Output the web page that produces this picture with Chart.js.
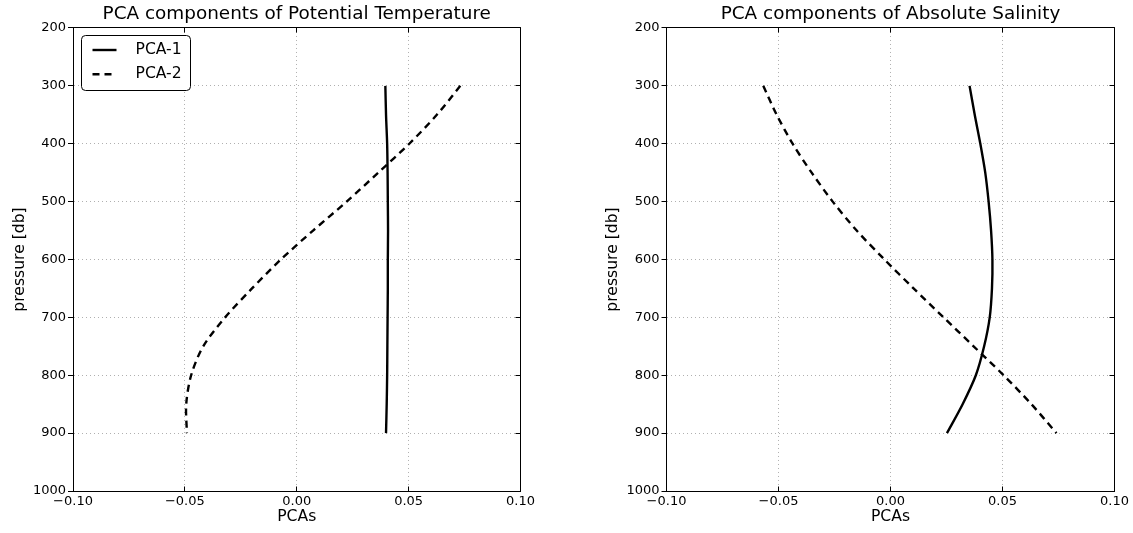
<!DOCTYPE html>
<html><head><meta charset="utf-8">
<script src="https://cdn.jsdelivr.net/npm/chart.js@4/dist/chart.umd.min.js"></script>
<style>
html,body{margin:0;padding:0;background:#fff;overflow:hidden;width:1133px;height:533px}
#wrapL{position:absolute;left:0;top:0;width:566px;height:533px}
#wrapR{position:absolute;left:593px;top:0;width:540px;height:533px}
canvas{display:block}
</style></head><body>
<div id="wrapL"><canvas id="cL" width="566" height="533"></canvas></div>
<div id="wrapR"><canvas id="cR" width="540" height="533"></canvas></div>
<script>
// ---- data ----
const pressure = [300, 350, 400, 450, 500, 550, 600, 650, 700, 750, 800, 850, 900];
const tempPCA1 = [0.0396, 0.0399, 0.0404, 0.0406, 0.0407, 0.0408, 0.0407, 0.0407, 0.0406, 0.0405, 0.0404, 0.0402, 0.0399];
const tempPCA2 = [0.0731, 0.0626, 0.0503, 0.0364, 0.0223, 0.0073, -0.0071, -0.0200, -0.0320, -0.0418, -0.0472, -0.0494, -0.0491];
const salPCA1  = [0.0353, 0.0376, 0.0401, 0.0423, 0.0438, 0.0449, 0.0455, 0.0453, 0.0443, 0.0418, 0.0381, 0.0322, 0.0252];
const salPCA2  = [-0.0568, -0.0508, -0.0437, -0.0352, -0.0258, -0.0151, -0.0027, 0.0103, 0.0237, 0.0371, 0.0505, 0.0629, 0.0741];
const seriesLabels = ['PCA-1', 'PCA-2'];
const chartTitles = ['PCA components of Potential Temperature', 'PCA components of Absolute Salinity'];
const xAxisTitle = 'PCAs';
const yAxisTitle = 'pressure [db]';
const xTickValues = [-0.10, -0.05, 0.00, 0.05, 0.10];
const xTickLabels = ['\u22120.10', '\u22120.05', '0.00', '0.05', '0.10'];
const yTickValues = [200, 300, 400, 500, 600, 700, 800, 900, 1000];
const yTickLabels = ['200', '300', '400', '500', '600', '700', '800', '900', '1000'];

// ---- styling ----
const FONT = 'DejaVu Sans';
Chart.defaults.font.family = FONT;
Chart.defaults.color = '#000';

function align(px) { return Math.round(px - 0.5) + 0.5; }

const framePlugin = {
  id: 'frame',
  afterDraw(chart) {
    const {ctx, chartArea: a, scales} = chart;
    ctx.save();
    ctx.strokeStyle = '#000';
    ctx.lineWidth = 1;
    ctx.setLineDash([]);
    const L = align(a.left), R = align(a.right), T = align(a.top), B = align(a.bottom);
    ctx.beginPath();
    ctx.rect(L, T, R - L, B - T);
    ctx.stroke();
    // inward ticks
    ctx.beginPath();
    scales.x.ticks.forEach(t => {
      const x = align(scales.x.getPixelForValue(t.value));
      ctx.moveTo(x, B); ctx.lineTo(x, B - 5);
      ctx.moveTo(x, T); ctx.lineTo(x, T + 5);
    });
    scales.y.ticks.forEach(t => {
      const y = align(scales.y.getPixelForValue(t.value));
      ctx.moveTo(R, y); ctx.lineTo(R - 5, y);
    });
    ctx.stroke();
    ctx.restore();
  }
};

const insideLegend = {
  id: 'insideLegend',
  afterDraw(chart, args, opts) {
    if (!opts.display) return;
    const {ctx, chartArea: a} = chart;
    const bx = align(a.left + 8), by = align(a.top + 8), bw = 109, bh = 55, r = 4;
    ctx.save();
    ctx.beginPath();
    ctx.moveTo(bx + r, by);
    ctx.arcTo(bx + bw, by, bx + bw, by + bh, r);
    ctx.arcTo(bx + bw, by + bh, bx, by + bh, r);
    ctx.arcTo(bx, by + bh, bx, by, r);
    ctx.arcTo(bx, by, bx + bw, by, r);
    ctx.closePath();
    ctx.fillStyle = '#fff';
    ctx.fill();
    ctx.strokeStyle = '#000';
    ctx.lineWidth = 1;
    ctx.stroke();
    ctx.font = '15.6px "' + FONT + '"';
    ctx.textBaseline = 'middle';
    ctx.textAlign = 'left';
    chart.data.datasets.forEach((ds, i) => {
      const y = by + 14.5 + i * 24.3;
      ctx.beginPath();
      ctx.lineWidth = ds.borderWidth;
      ctx.strokeStyle = ds.borderColor;
      ctx.setLineDash(ds.borderDash || []);
      ctx.moveTo(bx + 11, y);
      ctx.lineTo(bx + 35, y);
      ctx.stroke();
      ctx.setLineDash([]);
      ctx.fillStyle = '#000';
      ctx.fillText(ds.label, bx + 54, y);
    });
    ctx.restore();
  }
};

function makeChart(canvas, title, s1, s2, showLegend, yWidth, padRight) {
  const mk = (arr) => pressure.map((p, i) => ({x: arr[i], y: p}));
  return new Chart(canvas, {
    type: 'scatter',
    data: {
      datasets: [
        {label: seriesLabels[0], data: mk(s1), showLine: true, borderColor: '#000', backgroundColor: '#000',
         borderWidth: 2.4, pointRadius: 0, tension: 0.3, fill: false, borderDash: []},
        {label: seriesLabels[1], data: mk(s2), showLine: true, borderColor: '#000', backgroundColor: '#000',
         borderWidth: 2.4, pointRadius: 0, tension: 0.3, fill: false, borderDash: [7, 5]}
      ]
    },
    options: {
      responsive: false,
      animation: false,
      devicePixelRatio: 1,
      layout: {padding: {left: 0, right: padRight, top: 0, bottom: 0}},
      plugins: {
        legend: {display: false},
        tooltip: {enabled: false},
        title: {display: true, text: title, fullSize: false, color: '#000',
                font: {family: FONT, size: 18.4, weight: 'normal', lineHeight: 1.2},
                padding: {top: 3, bottom: 2.9}},
        insideLegend: {display: showLegend}
      },
      scales: {
        x: {
          type: 'linear', min: -0.1, max: 0.1,
          afterBuildTicks: s => { s.ticks = xTickValues.map(v => ({value: v})); },
          afterFit: s => { s.height = 42; },
          ticks: {callback: (v, i) => xTickLabels[i], font: {size: 13}, color: '#000', padding: 3,
                  maxRotation: 0, autoSkip: false},
          grid: {color: '#b0b0b0', lineWidth: 1, drawTicks: false},
          border: {display: true, color: '#000', width: 1, dash: [1, 3]},
          title: {display: true, text: xAxisTitle, color: '#000', font: {size: 15.6, lineHeight: 1.2},
                  padding: {top: 0, bottom: 6.6}}
        },
        y: {
          type: 'linear', min: 200, max: 1000, reverse: true,
          afterBuildTicks: s => { s.ticks = yTickValues.map(v => ({value: v})); },
          afterFit: s => { s.width = yWidth; },
          ticks: {callback: (v, i) => yTickLabels[i], font: {size: 13}, color: '#000', padding: 2, autoSkip: false},
          grid: {color: '#b0b0b0', lineWidth: 1, drawTicks: true, tickLength: 5, tickColor: '#000',
                 tickBorderDash: [], tickWidth: 1},
          border: {display: true, color: '#000', width: 1, dash: [1, 3]},
          title: {display: true, text: yAxisTitle, color: '#000', font: {size: 15.6, lineHeight: 1.2},
                  padding: {top: 10.6, bottom: 0}}
        }
      }
    },
    plugins: [framePlugin, insideLegend]
  });
}

makeChart(document.getElementById('cL'), chartTitles[0], tempPCA1, tempPCA2, true, 73, 45.5);
makeChart(document.getElementById('cR'), chartTitles[1], salPCA1, salPCA2, false, 73.5, 18.5);
</script>
</body></html>
